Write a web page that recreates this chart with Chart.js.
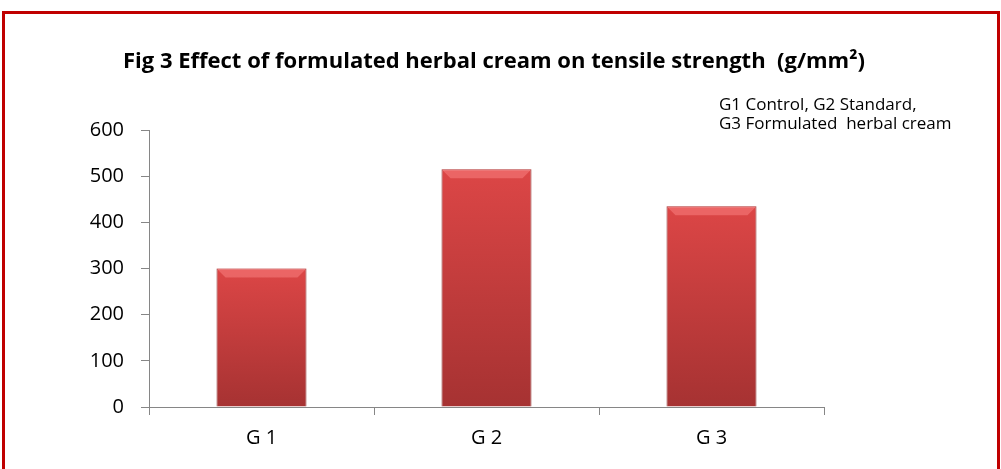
<!DOCTYPE html>
<html>
<head>
<meta charset="utf-8">
<script src="https://cdn.jsdelivr.net/npm/chart.js@4.4.1/dist/chart.umd.min.js"></script>
<style>
  body { margin: 0; background: #fff; }
  #wrap { position: relative; width: 1001px; height: 469px; overflow: hidden; }
  #frame { position: absolute; left: 2px; top: 11px; width: 992px; height: 480px; border: 3px solid #c00000; }
  canvas { position: absolute; left: 0; top: 0; }
</style>
</head>
<body>
<div id="wrap">
  <div id="frame"></div>
  <canvas id="barChart" width="1001" height="469"></canvas>
</div>
<script>
// chart data
const groups = ['G 1', 'G 2', 'G 3'];
const tensileStrength = [300, 515, 435];
const yTicks = [0, 100, 200, 300, 400, 500, 600];
const chartTitle = 'Fig 3 Effect of formulated herbal cream on tensile strength  (g/mm²)';
const noteLines = ['G1 Control, G2 Standard,', 'G3 Formulated  herbal cream'];

const axisGrey = '#868686';
const mainFont = "'Open Sans', 'Liberation Sans', sans-serif";

// title + note drawn as text on the canvas
const textPlugin = {
    id: 'textPlugin',
    afterDraw(chart) {
        const c = chart.ctx;
        c.save();
        c.fillStyle = '#000';
        c.textBaseline = 'middle';
        c.textAlign = 'center';
        c.font = "bold 22px " + mainFont;
        c.fillText(chartTitle, 494, 62);
        c.textAlign = 'left';
        c.font = "17px " + mainFont;
        c.fillText(noteLines[0], 719, 105);
        c.fillText(noteLines[1], 719, 124);
        c.restore();
    }
};

// lighter bevel on top of each bar
const bevelPlugin = {
    id: 'bevelPlugin',
    afterDatasetsDraw(chart) {
        const c = chart.ctx;
        chart.getDatasetMeta(0).data.forEach((bar) => {
            const l = bar.x - bar.width / 2, r = bar.x + bar.width / 2, t = bar.y;
            c.save();
            c.fillStyle = 'rgba(255,140,140,0.45)';
            c.beginPath();
            c.moveTo(l, t);
            c.lineTo(r, t);
            c.lineTo(r - 9, t + 9);
            c.lineTo(l + 9, t + 9);
            c.closePath();
            c.fill();
            c.restore();
        });
    }
};

const ctx = document.getElementById('barChart').getContext('2d');
const chart = new Chart(ctx, {
    type: 'bar',
    data: {
        labels: groups,
        datasets: [{
            data: tensileStrength,
            backgroundColor: (context) => {
                const ch = context.chart;
                if (!ch.chartArea) return '#c83c3c';
                const y = ch.scales.y;
                const top = y.getPixelForValue(context.raw);
                const bottom = y.getPixelForValue(0);
                const g = ch.ctx.createLinearGradient(0, top, 0, bottom);
                g.addColorStop(0, '#dc4646');
                g.addColorStop(1, '#a63232');
                return g;
            },
            borderColor: '#8a2a2a',
            borderWidth: 1,
            barPercentage: 0.4,
            categoryPercentage: 1.0
        }]
    },
    options: {
        responsive: false,
        animation: false,
        layout: { padding: { top: 130, left: 0, right: 177, bottom: 0 } },
        plugins: {
            legend: { display: false },
            title: { display: false },
            tooltip: { enabled: false }
        },
        scales: {
            x: {
                grid: {
                    display: true,
                    drawOnChartArea: false,
                    color: axisGrey,
                    tickLength: 8
                },
                border: { color: axisGrey, width: 1 },
                ticks: {
                    color: '#000',
                    font: { family: mainFont, size: 20 },
                    padding: 11
                },
                afterFit(scale) { scale.height = 62; }
            },
            y: {
                min: 0,
                max: 600,
                afterBuildTicks(scale) { scale.ticks = yTicks.map(v => ({ value: v })); },
                grid: {
                    display: true,
                    drawOnChartArea: false,
                    color: axisGrey,
                    tickLength: 8
                },
                border: { color: axisGrey, width: 1 },
                ticks: {
                    color: '#000',
                    font: { family: mainFont, size: 20 },
                    padding: 17
                },
                afterFit(scale) { scale.width = 149; }
            }
        }
    },
    plugins: [textPlugin, bevelPlugin]
});
</script>
</body>
</html>
